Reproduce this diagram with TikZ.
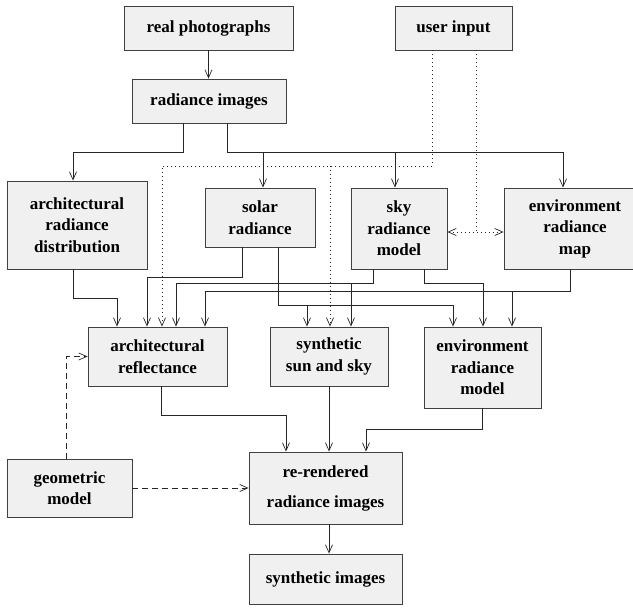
\documentclass[tikz,border=0pt]{standalone}
\usepackage{fontspec}
\setmainfont{Liberation Serif}
\usetikzlibrary{arrows.meta}

\begin{document}
\begin{tikzpicture}[
    x=1pt, y=-1pt,
    >={Straight Barb[length=8pt,width=7pt]},
    box/.style={draw=black!75, fill=black!6, line width=0.8pt, inner sep=0pt, align=center,
        font=\bfseries\fontsize{17}{21.5}\selectfont},
    flow/.style={draw=black!85, line width=0.7pt},
    user/.style={flow, dash pattern=on 1pt off 3pt},
    geo/.style={flow, dash pattern=on 6pt off 4pt},
    ]
    \useasboundingbox (0,0) rectangle (633,608);
    \node[box, minimum width=169, minimum height=44] (realph) at (208.5,28) {real photographs};
    \node[box, minimum width=117, minimum height=44] (userin) at (453.5,28) {user input};
    \node[box, minimum width=154, minimum height=44] (radimg) at (209,101) {radiance images};
    \node[box, minimum width=140, minimum height=88] (archrad) at (77,225) {architectural\\radiance\\distribution};
    \node[box, minimum width=110, minimum height=59] (solar) at (260,217.5) {solar\\radiance};
    \node[box, minimum width=96, minimum height=81] (skymod) at (399,228.5) {sky\\radiance\\model};
    \node[box, minimum width=142, minimum height=81] (envmap) at (575,228.5) {environment\\radiance\\map};
    \node[box, minimum width=139, minimum height=59] (archrefl) at (157.5,356.5) {architectural\\reflectance};
    \node[box, minimum width=118, minimum height=59] (synsun) at (329,356.5) {synthetic\\sun and sky};
    \node[box, minimum width=117, minimum height=81] (envmod) at (482.5,367.5) {environment\\radiance\\model};
    \node[box, minimum width=125, minimum height=58] (geom) at (69.5,488) {geometric\\model};
    \node[box, minimum width=153, minimum height=72] (rerend) at (325.5,488) {re-rendered\\[8.5pt]radiance images};
    \node[box, minimum width=153, minimum height=50] (synimg) at (325.5,579) {synthetic images};

    \coordinate (jarch) at (73,152);
    \coordinate (jsolar) at (263,152);
    \coordinate (jsky) at (395,152);
    \coordinate (jenv) at (563,152);
    \coordinate (juser) at (162,166);
    \coordinate (jusersun) at (330,166);
    \coordinate (juserenv) at (476,232);
    \coordinate (ja) at (117,298);
    \coordinate (jb) at (147,277);
    \coordinate (jc) at (453,305);
    \coordinate (jd) at (307,305);
    \coordinate (je) at (176,283);
    \coordinate (jf) at (351,283);
    \coordinate (jg) at (483,283);
    \coordinate (jh) at (205,291);
    \coordinate (ji) at (512,291);
    \coordinate (jj) at (286,415);
    \coordinate (jk) at (366,429);

    \draw[flow, ->] (realph.south) -- (realph.south |- radimg.north);
    \draw[flow, ->] ([xshift=-26pt]radimg.south) |- (jarch) -- (jarch |- archrad.north);
    \draw[flow, ->] ([xshift=18pt]radimg.south) |- (jenv) -- (jenv |- envmap.north);
    \draw[flow, ->] (jsolar) -- (jsolar |- solar.north);
    \draw[flow, ->] (jsky) -- (jsky |- skymod.north);

    \draw[user, ->] ([xshift=-21.5pt]userin.south) |- (juser) -- (juser |- archrefl.north);
    \draw[user, ->] (jusersun) -- (jusersun |- synsun.north);
    \draw[user] ([xshift=22.5pt]userin.south) -- (juserenv);
    \draw[user, <->] (skymod.east |- juserenv) -- (envmap.west |- juserenv);

    \draw[flow, ->] ([xshift=-4pt]archrad.south) |- (ja) -- (ja |- archrefl.north);
    \draw[flow, ->] ([xshift=-18pt]solar.south) |- (jb) -- (jb |- archrefl.north);
    \draw[flow, ->] ([xshift=18pt]solar.south) |- (jc) -- (jc |- envmod.north);
    \draw[flow, ->] (jd) -- (jd |- synsun.north);
    \draw[flow, ->] ([xshift=-26pt]skymod.south) |- (je) -- (je |- archrefl.north);
    \draw[flow, ->] (jf) -- (jf |- synsun.north);
    \draw[flow, ->] ([xshift=25pt]skymod.south) |- (jg) -- (jg |- envmod.north);
    \draw[flow, ->] ([xshift=-5pt]envmap.south) |- (jh) -- (jh |- archrefl.north);
    \draw[flow, ->] (ji) -- (ji |- envmod.north);

    \draw[flow, ->] ([xshift=3.5pt]archrefl.south) |- (jj) -- (jj |- rerend.north);
    \draw[flow, ->] (synsun.south) -- (synsun.south |- rerend.north);
    \draw[flow, ->] (envmod.south) |- (jk) -- (jk |- rerend.north);
    \draw[geo, ->] ([xshift=-3.5pt]geom.north) |- (archrefl.west);
    \draw[geo, ->] (geom.east) -- (rerend.west);
    \draw[flow, ->] ([xshift=3.5pt]rerend.south) -- ([xshift=3.5pt]synimg.north);
\end{tikzpicture}
\end{document}
